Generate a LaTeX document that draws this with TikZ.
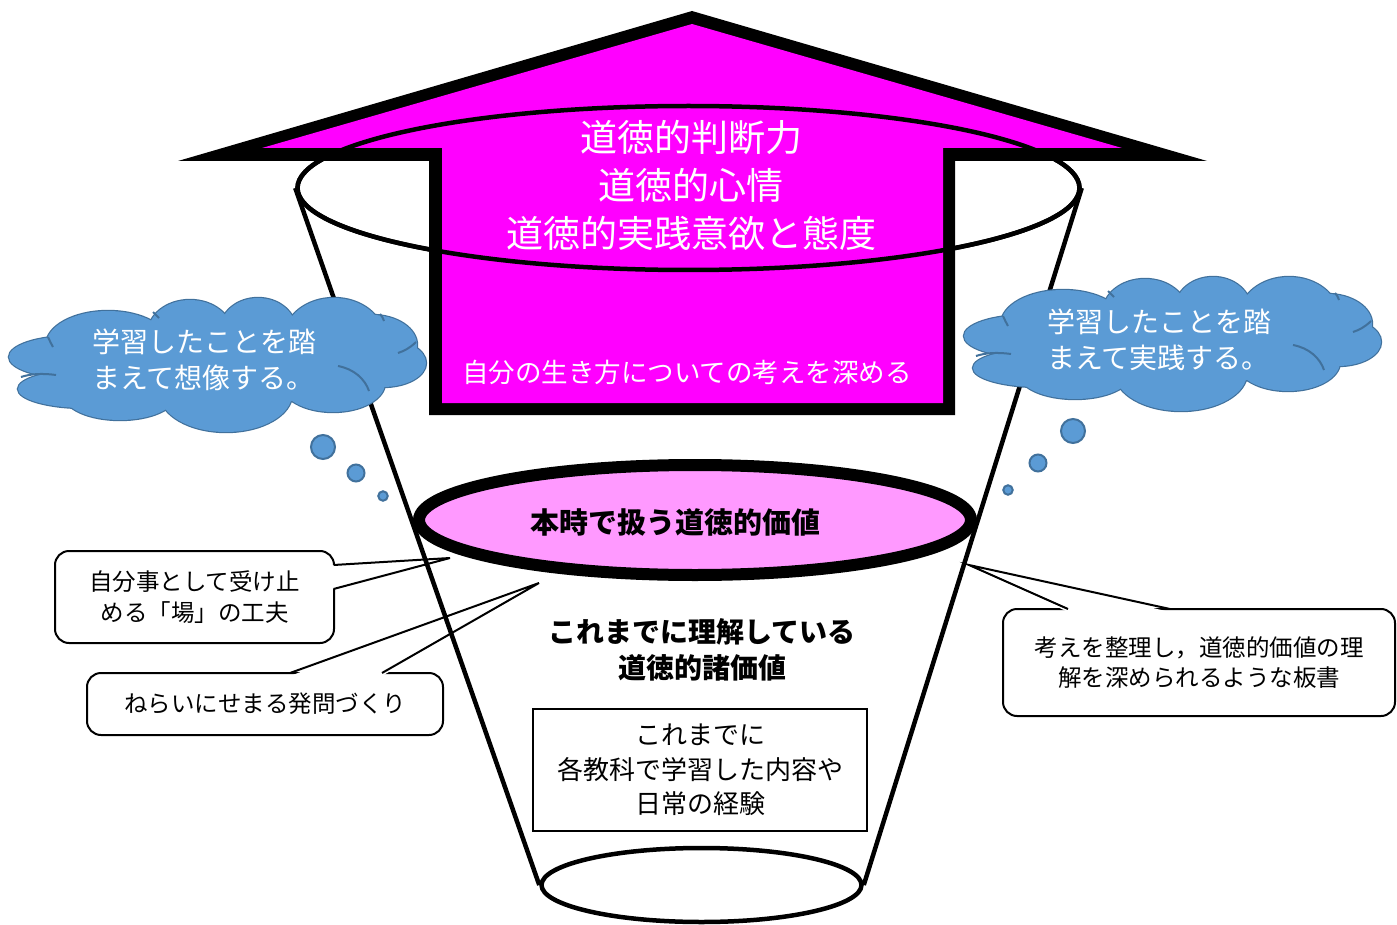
\documentclass[tikz,border=0pt]{standalone}
\usepackage{fontspec}
\setmainfont{Noto Sans CJK JP}
\usetikzlibrary{shapes.geometric}
\definecolor{arrowfill}{HTML}{FF00FF}
\definecolor{valuefill}{HTML}{FF99FF}
\definecolor{cloudfill}{HTML}{5B9BD5}
\definecolor{cloudedge}{HTML}{41719C}
\newcommand\mycloudbody{%
  \foreach \cx/\cy/\rx/\ry in {72/357/63/21, 85/389/67/19, 108/345/62/34, 190/333/42/33, 258/330/38/32, 334/338/50/40, 372/345/45/30, 383/363/43/24, 333/383/52/29, 226/394/66/38, 120/395/56/25, 217/362/150/45}
    {\draw[cloudedge, line width=2.4pt] (\cx,\cy) ellipse [x radius=\rx, y radius=\ry];}
  \foreach \cx/\cy/\rx/\ry in {72/357/63/21, 85/389/67/19, 108/345/62/34, 190/333/42/33, 258/330/38/32, 334/338/50/40, 372/345/45/30, 383/363/43/24, 333/383/52/29, 226/394/66/38, 120/395/56/25, 217/362/150/45}
    {\fill[cloudfill] (\cx,\cy) ellipse [x radius=\rx, y radius=\ry];}
  \draw[cloudedge, line width=2pt] (338,366) .. controls (354,369) and (365,379) .. (369,391);
  \draw[cloudedge, line width=2pt] (56,375) .. controls (42,373) and (30,374) .. (21,377);
  \draw[cloudedge, line width=2pt] (416,342) .. controls (410,348) and (404,351) .. (398,353);
  \draw[cloudedge, line width=2pt] (48,337) .. controls (50,341) and (51,344) .. (53,347);
  \draw[cloudedge, line width=2pt] (153,312) .. controls (155,314) and (157,316) .. (159,318);
  \draw[cloudedge, line width=2pt] (380,314) .. controls (382,316) and (383,318) .. (384,321);
}
\begin{document}
\begin{tikzpicture}[x=1pt,y=-1pt,
  cupline/.style={line width=4.5pt},
  callout/.style={draw, line width=2pt, rounded corners=14pt, fill=white, inner sep=0pt, align=center, font=\fontsize{23.5}{30.5}\selectfont},
  pointer/.style={line width=2pt, line join=miter},
  bubble/.style={circle, draw=cloudedge, fill=cloudfill, line width=2pt, inner sep=0pt},
  whitetext/.style={text=white, inner sep=0pt, align=center},
  blacktext/.style={text=black, inner sep=0pt, align=center}]
\useasboundingbox (0,0) rectangle (1397,925);

% callouts
\node[callout, minimum width=279pt, minimum height=92pt] (c1) at (194.5,597) {自分事として受け止\\める「場」の工夫};
\node[callout, minimum width=356pt, minimum height=62pt] (c2) at (265,704) {ねらいにせまる発問づくり};
\node[callout, minimum width=392pt, minimum height=107pt] (c3) at (1199,662.5) {考えを整理し，道徳的価値の理\\解を深められるような板書};
\coordinate (t1) at (450,558);
\coordinate (t2) at (539,583);
\coordinate (t3) at (969,565);
\fill[white] (331,565) -- (t1) -- (331,589.5) -- cycle;
\draw[pointer] (333.5,565) -- (t1) -- (333.5,589);
\fill[white] (290,676) -- (t2) -- (382,676) -- cycle;
\draw[pointer] (290,673) -- (t2) -- (382,673);
\fill[white] (1068,612) -- (t3) -- (1170,612) -- cycle;
\draw[pointer] (1068,609) -- (t3) -- (1170,609);

% cup
\node[ellipse, draw, line width=4.5pt, minimum width=782pt, minimum height=164pt, inner sep=0pt] (rim) at (688.5,188) {};
\node[ellipse, draw, line width=4.5pt, minimum width=320pt, minimum height=74pt, inner sep=0pt] (base) at (701.5,885) {};
\draw[cupline] (rim.west) -- (base.west);
\draw[cupline] (rim.east) -- (base.east);

% arrow
\fill[black] (692,11) -- (1207,161) -- (955,161) -- (955,415) -- (429,415) -- (429,161) -- (178,161) -- cycle;
\fill[arrowfill] (692,24) -- (1122,148) -- (943,148) -- (943,403) -- (442,403) -- (442,148) -- (262,148) -- cycle;
\draw[line width=4.5pt] (rim.center) ellipse [x radius=391, y radius=82];
\node[whitetext, font=\fontsize{37}{48}\selectfont] (goal) at (691,185) {道徳的判断力\\道徳的心情\\道徳的実践意欲と態度};
\node[whitetext, font=\fontsize{26.5}{30}\selectfont] (deepen) at (687,372) {自分の生き方についての考えを深める};

% clouds
\begin{scope}
  \mycloudbody
\end{scope}
\begin{scope}[shift={(955,-21)}]
  \mycloudbody
\end{scope}
\node[whitetext, align=left, anchor=west, font=\fontsize{28}{36}\selectfont] (cl1t) at (92,360) {学習したことを踏\\まえて想像する。};
\node[whitetext, align=left, anchor=west, font=\fontsize{28}{36}\selectfont] (cl2t) at (1047,340) {学習したことを踏\\まえて実践する。};
\node[bubble, minimum size=24pt] (b1) at (323,447) {};
\node[bubble, minimum size=17pt] (b2) at (356,473) {};
\node[bubble, minimum size=9.5pt] (b3) at (383,496) {};
\node[bubble, minimum size=24pt] (b4) at (1073,431) {};
\node[bubble, minimum size=17pt] (b5) at (1038,463) {};
\node[bubble, minimum size=9.5pt] (b6) at (1008,490) {};

% value ellipse
\node[ellipse, draw, line width=12pt, fill=valuefill, minimum width=552pt, minimum height=110pt, inner sep=0pt] (value) at (695,520) {};
\node[blacktext, font=\bfseries\fontsize{29}{36}\selectfont] (valuet) at (675,522) {本時で扱う道徳的価値};
\node[blacktext, font=\bfseries\fontsize{28}{36}\selectfont] (known) at (702,650) {これまでに理解している\\道徳的諸価値};
\node[draw, line width=1.5pt, minimum width=334pt, minimum height=122pt, inner sep=0pt, align=center, font=\fontsize{26}{34.5}\selectfont] (past) at (700,770) {これまでに\\各教科で学習した内容や\\日常の経験};
\end{tikzpicture}
\end{document}
